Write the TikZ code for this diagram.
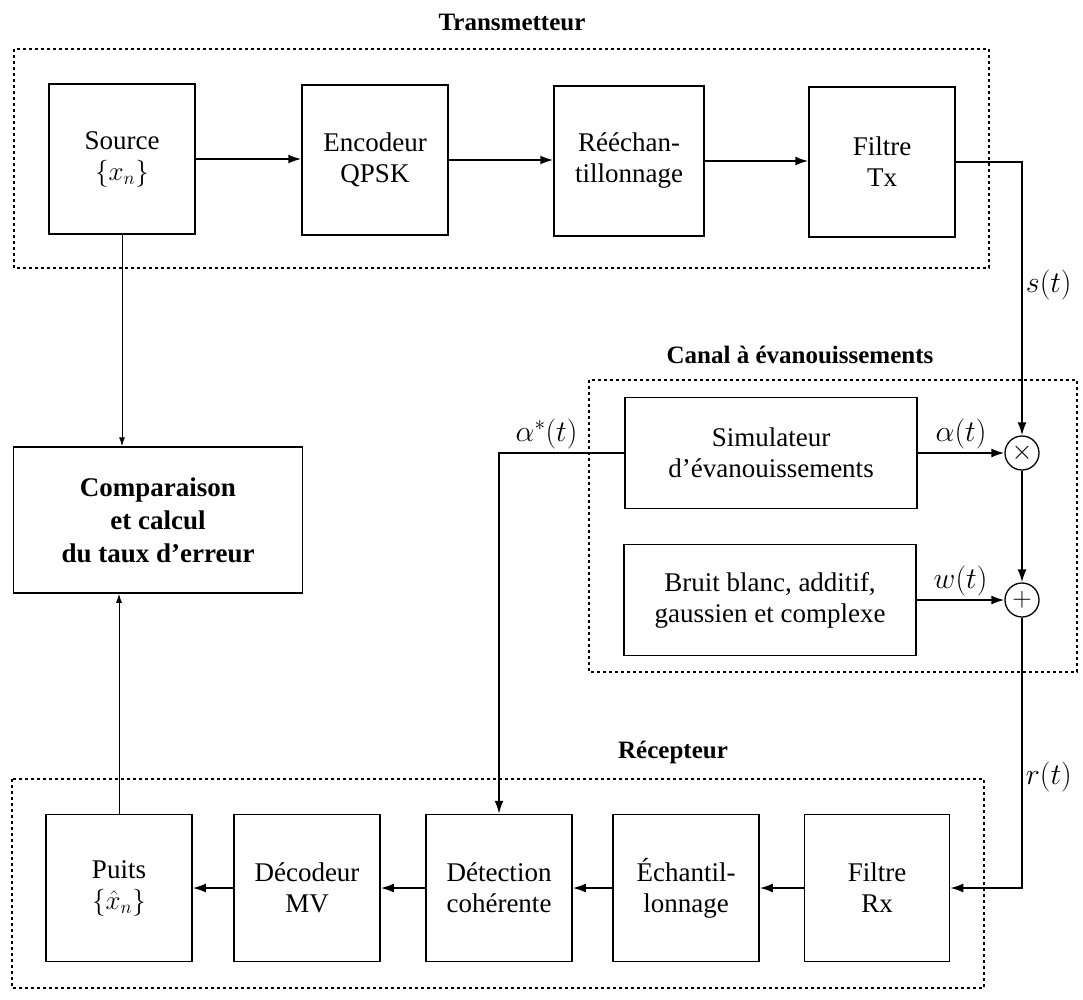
\RequirePackage{fix-cm}
\documentclass[tikz,border=0pt]{standalone}
\usepackage{fontspec}
\setmainfont{Liberation Serif}
\usetikzlibrary{arrows.meta}
\begin{document}
\begin{tikzpicture}[x=1pt,y=-1pt,
  every node/.style={font=\fontsize{27}{31}\selectfont},
  blk/.style={draw,line width=1.5pt,minimum width=146pt,minimum height=150pt,inner sep=0pt,align=center},
  wide/.style={draw,line width=1.5pt,minimum width=292pt,minimum height=111pt,inner sep=0pt,align=center},
  sumnode/.style={draw,circle,line width=1.3pt,minimum size=34pt,inner sep=0pt},
  group/.style={line width=1.4pt,dash pattern=on 3pt off 3pt},
  grouptitle/.style={font=\fontsize{25}{29}\selectfont\bfseries},
  sig/.style={line width=1.8pt,-{Latex[length=13pt,width=9pt]}},
  thin/.style={line width=1pt,-{Latex[length=9pt,width=6pt]}},
  lbl/.style={inner sep=3pt,font=\fontsize{30}{34}\selectfont}]
\useasboundingbox (0,0) rectangle (1083,999);

% transmitter
\node[grouptitle] (ttx) at (512,22) {Transmetteur};
\draw[group] (14,49) rectangle (989,268);
\node[blk] (src) at (122,159) {Source\\$\{x_n\}$};
\node[blk] (enc) at (375,160) {Encodeur\\QPSK};
\node[blk,minimum width=150pt] (res) at (629,161) {Rééchan-\\tillonnage};
\node[blk] (ftx) at (882,162) {Filtre\\Tx};

% fading channel
\node[grouptitle] (tch) at (800,355) {Canal à évanouissements};
\draw[group] (589,380) rectangle (1077,672);
\node[wide] (sim) at (771,453) {Simulateur\\d’évanouissements};
\node[wide] (noise) at (770,600) {Bruit blanc, additif,\\gaussien et complexe};
\node[sumnode] (mul) at (1022,453) {$\times$};
\node[sumnode] (add) at (1022,600) {$+$};

% error counting
\node[wide,minimum width=289pt,minimum height=146pt,font=\fontsize{27}{33}\selectfont\bfseries] (cmp) at (158,520)
  {Comparaison\\et calcul\\du taux d’erreur};

% receiver
\node[grouptitle] (trx) at (673,752) {Récepteur};
\draw[group] (12,779) rectangle (984,988);
\node[blk,minimum height=147pt] (pts) at (119,888) {Puits\\$\{\hat{x}_n\}$};
\node[blk,minimum height=147pt] (dec) at (307,888) {Décodeur\\MV};
\node[blk,minimum height=147pt] (det) at (499,888) {Détection\\cohérente};
\node[blk,minimum height=147pt] (ech) at (686,888) {Échantil-\\lonnage};
\node[blk,minimum height=147pt,minimum width=145pt] (frx) at (877,888) {Filtre\\Rx};

% transmitter chain
\draw[sig] (src.east) -- (enc.west |- src.east);
\draw[sig] (enc.east) -- (res.west |- enc.east);
\draw[sig] (res.east) -- (ftx.west |- res.east);
\coordinate (txc) at (ftx.east -| mul.north);
\draw[sig] (ftx.east) -- (txc) -- node[right,lbl,pos=0.45] {$s(t)$} (mul.north);

% channel
\draw[sig] (sim.east) -- node[above,lbl] {$\alpha(t)$} (mul.west);
\draw[sig] (noise.east) -- node[above,lbl] {$w(t)$} (add.west);
\draw[sig] (mul.south) -- (add.north);
\coordinate (rxc) at (add.south |- frx.east);
\draw[sig] (add.south) -- node[right,lbl,pos=0.59] {$r(t)$} (rxc) -- (frx.east);

% channel estimate to the detector
\coordinate (acc) at (det.north |- sim.west);
\draw[sig] (sim.west) -- node[above,lbl,pos=0.62] {$\alpha^*(t)$} (acc) -- (det.north);

% receiver chain
\draw[sig] (frx.west) -- (ech.east |- frx.west);
\draw[sig] (ech.west) -- (det.east |- ech.west);
\draw[sig] (det.west) -- (dec.east |- det.west);
\draw[sig] (dec.west) -- (pts.east |- dec.west);

% comparison inputs
\draw[thin] (src.south) -- (src.south |- cmp.north);
\draw[thin] (pts.north) -- (pts.north |- cmp.south);
\end{tikzpicture}
\end{document}
